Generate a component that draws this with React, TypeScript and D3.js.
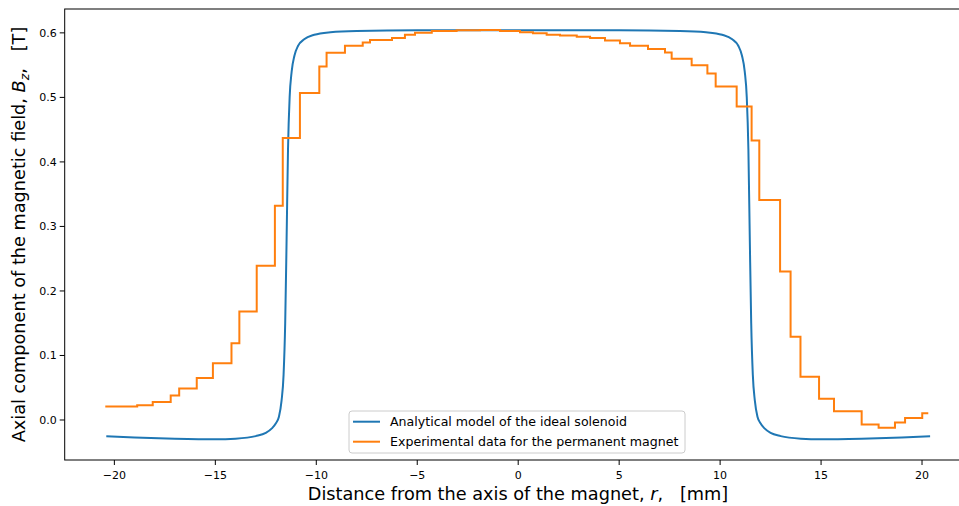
import React from "react";
import * as d3 from "d3";

// analytical model, [r mm, Bz T]
const solenoidR = [
  -20.4, -19, -17, -15, -14, -13, -12.5, -12.2, -12.0, -11.85, -11.72, -11.62, -11.54, -11.47,
  -11.4, -11.32, -11.22, -11.08, -10.9, -10.6, -10.1, -9.3, -8, -5, 0, 5, 8, 9.3, 10.1, 10.6,
  10.9, 11.08, 11.22, 11.32, 11.4, 11.47, 11.54, 11.62, 11.72, 11.85, 12.0, 12.2, 12.5, 13,
  14, 15, 17, 19, 20.4,
];
const solenoidB = [
  -0.025, -0.027, -0.029, -0.03, -0.029, -0.025, -0.02, -0.013, -0.005, 0.005, 0.03, 0.07,
  0.15, 0.28, 0.42, 0.5, 0.54, 0.565, 0.58, 0.59, 0.597, 0.601, 0.603, 0.604, 0.604, 0.604,
  0.603, 0.601, 0.597, 0.59, 0.58, 0.565, 0.54, 0.5, 0.42, 0.28, 0.15, 0.07, 0.03, 0.005,
  -0.005, -0.013, -0.02, -0.025, -0.029, -0.03, -0.029, -0.027, -0.025,
];

// experimental data: step edges (r mm) and the level held from that edge
const expR = [
  -20.45, -18.87, -18.1, -17.21, -16.79, -15.92, -15.12, -14.2, -13.81, -12.95, -12.05,
  -11.66, -10.81, -9.85, -9.49, -8.58, -7.7, -7.34, -6.25, -5.61, -5.11, -4.28, -3.05, -1.89,
  -0.9, 0.09, 0.73, 1.41, 2.07, 2.9, 3.56, 4.3, 5.04, 5.54, 6.43, 7.27, 7.6, 8.59, 9.37, 9.78,
  10.82, 11.56, 11.94, 12.97, 13.49, 13.98, 14.9, 15.64, 17.01, 17.85, 18.66, 19.16, 20.01,
  20.31,
];
const expB = [
  0.021, 0.023, 0.028, 0.038, 0.049, 0.065, 0.088, 0.119, 0.168, 0.239, 0.332, 0.437, 0.507,
  0.548, 0.569, 0.58, 0.585, 0.589, 0.592, 0.597, 0.6, 0.603, 0.604, 0.6045, 0.603, 0.601,
  0.5995, 0.597, 0.596, 0.594, 0.592, 0.588, 0.584, 0.58, 0.575, 0.5695, 0.56, 0.55, 0.537,
  0.517, 0.486, 0.433, 0.341, 0.23, 0.129, 0.067, 0.033, 0.0135, -0.007, -0.012, -0.004,
  0.003, 0.0105, 0.0105,
];

const xTicks = [-20, -15, -10, -5, 0, 5, 10, 15, 20];
const yTicks = [0.0, 0.1, 0.2, 0.3, 0.4, 0.5, 0.6];

const W = 959;
const H = 506;
const plot = { left: 64.7, top: 9, right: 971.7, bottom: 460 };
const font = "DejaVu Sans, sans-serif";

export default function App() {
  const x = d3.scaleLinear().domain([-22.46, 22.46]).range([plot.left, plot.right]);
  const y = d3.scaleLinear().domain([-0.062, 0.637]).range([plot.bottom, plot.top]);

  const solenoid = solenoidR.map((r, i) => [r, solenoidB[i]] as [number, number]);
  const experiment = expR.map((r, i) => [r, expB[i]] as [number, number]);

  const smooth = d3
    .line<[number, number]>()
    .x((d) => x(d[0]))
    .y((d) => y(d[1]))
    .curve(d3.curveMonotoneX);
  const steps = d3
    .line<[number, number]>()
    .x((d) => x(d[0]))
    .y((d) => y(d[1]))
    .curve(d3.curveStepAfter);

  const fmtY = d3.format(".1f");
  const fmtX = d3.format("d");

  return (
    <svg
      width={W}
      height={H}
      style={{ position: "absolute", left: 0, top: 0, background: "#fff" }}
    >
      <defs>
        <clipPath id="plotClip">
          <rect
            x={plot.left}
            y={plot.top}
            width={plot.right - plot.left}
            height={plot.bottom - plot.top}
          />
        </clipPath>
      </defs>

      <g clipPath="url(#plotClip)" fill="none" strokeWidth={2}>
        <path d={smooth(solenoid) || ""} stroke="#1f77b4" />
        <path d={steps(experiment) || ""} stroke="#ff7f0e" strokeLinejoin="miter" />
      </g>

      {/* spines */}
      <rect
        x={plot.left}
        y={plot.top}
        width={plot.right - plot.left}
        height={plot.bottom - plot.top}
        fill="none"
        stroke="#000"
        strokeWidth={1}
      />

      {/* x axis */}
      {xTicks.map((t) => (
        <g key={"x" + t} transform={`translate(${x(t)},${plot.bottom})`}>
          <line y2={5} stroke="#000" />
          <text
            y={19}
            textAnchor="middle"
            fontFamily={font}
            fontSize={11}
            fill="#000"
          >
            {fmtX(t)}
          </text>
        </g>
      ))}

      {/* y axis */}
      {yTicks.map((t) => (
        <g key={"y" + t} transform={`translate(${plot.left},${y(t)})`}>
          <line x2={-5} stroke="#000" />
          <text
            x={-8}
            dy="0.36em"
            textAnchor="end"
            fontFamily={font}
            fontSize={11}
            fill="#000"
          >
            {fmtY(t)}
          </text>
        </g>
      ))}

      <text
        x={518}
        y={500}
        textAnchor="middle"
        fontFamily={font}
        fontSize={17.7}
        fill="#000"
        style={{ whiteSpace: "pre" }}
      >
        Distance from the axis of the magnet, <tspan fontStyle="italic">r</tspan>,   [mm]
      </text>

      <text
        transform={`translate(25,${(plot.top + plot.bottom) / 2}) rotate(-90)`}
        textAnchor="middle"
        fontFamily={font}
        fontSize={17.7}
        fill="#000"
        style={{ whiteSpace: "pre" }}
      >
        Axial component of the magnetic field, <tspan fontStyle="italic">B</tspan>
        <tspan fontStyle="italic" fontSize={12.4} dy={3.8}>
          z
        </tspan>
        <tspan dy={-3.8}>,   [T]</tspan>
      </text>

      {/* legend */}
      <g transform="translate(349,411)">
        <rect
          width={336}
          height={42}
          rx={3}
          fill="#fff"
          fillOpacity={0.8}
          stroke="#ccc"
          strokeWidth={1}
        />
        <line x1={4} x2={31} y1={10.7} y2={10.7} stroke="#1f77b4" strokeWidth={2} />
        <line x1={4} x2={31} y1={30.7} y2={30.7} stroke="#ff7f0e" strokeWidth={2} />
        <text x={41} y={15.2} fontFamily={font} fontSize={12.6} fill="#000">
          Analytical model of the ideal solenoid
        </text>
        <text x={41} y={35.2} fontFamily={font} fontSize={12.6} fill="#000">
          Experimental data for the permanent magnet
        </text>
      </g>
    </svg>
  );
}
